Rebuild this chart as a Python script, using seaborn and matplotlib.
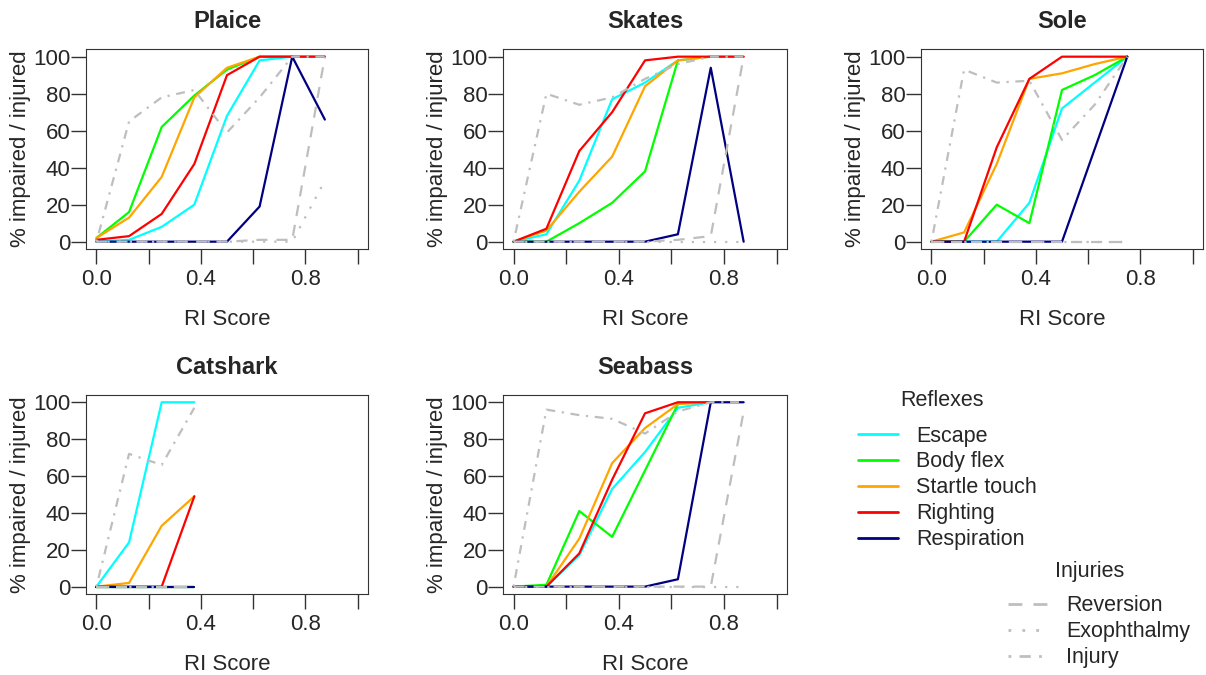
import numpy as np
import pandas as pd
import seaborn as sns
from matplotlib import pyplot as plt
from matplotlib.lines import Line2D

sns.set_style("ticks")
plt.rcParams["font.family"] = ["Liberation Sans", "DejaVu Sans"]

# RI score classes (x axis)
score = [0, 0.125, 0.25, 0.375, 0.5, 0.625, 0.75, 0.875]

reflexes = ["Escape", "Body flex", "Startle touch", "Righting", "Respiration"]
injuries = ["Reversion", "Exophthalmy", "Injury"]
measures = reflexes + injuries

colors = ["#00FFFF", "#00FF00", "#FFA500", "#FF0000", "#000080",
          "#BEBEBE", "#BEBEBE", "#BEBEBE"]
dash_styles = ["", "", "", "", "", (5, 4), (1, 4), (1, 3, 4, 3)]

# % impaired / injured per RI score class (shorter list = no fish in later classes)
plaice = {
    "Escape": [0, 1, 8, 20, 68, 98, 100],
    "Body flex": [2, 16, 62, 79, 93, 100, 100, 100],
    "Startle touch": [2, 13, 35, 78, 94, 100, 100, 100],
    "Righting": [1, 3, 15, 42, 90, 100, 100, 100],
    "Respiration": [0, 0, 0, 0, 0, 19, 100, 66],
    "Reversion": [0, 0, 0, 0, 0, 1, 1, 100],
    "Exophthalmy": [0, 0, 0, 0, 0, 0, 0, 33],
    "Injury": [0, 65, 78, 82, 59, 78, 100, 100],
}
skates = {
    "Escape": [0, 4, 33, 77, 86, 98, 100],
    "Body flex": [0, 0, 10, 21, 38, 98],
    "Startle touch": [0, 6, 27, 46, 84, 98, 100, 100],
    "Righting": [0, 7, 49, 70, 98, 100, 100, 100],
    "Respiration": [0, 0, 0, 0, 0, 4, 94, 0],
    "Reversion": [0, 0, 0, 0, 0, 1, 3, 100],
    "Exophthalmy": [0, 0, 0, 0, 0, 0, 0, 0],
    "Injury": [0, 80, 74, 78, 88, 96, 100, 100],
}
sole = {
    "Escape": [0, 0, 0, 21, 72, 86, 100],
    "Body flex": [0, 0, 20, 10, 82, 90, 100],
    "Startle touch": [0, 5, 42, 88, 91, 96, 100],
    "Righting": [0, 0, 51, 88, 100, 100, 100],
    "Respiration": [0, 0, 0, 0, 0, 50, 100],
    "Reversion": [0, 0, 0, 0, 0, 0, 0],
    "Exophthalmy": [0, 0, 0, 0, 0, 0, 0],
    "Injury": [0, 93, 86, 87, 55, 74, 100],
}
catshark = {
    "Escape": [0, 24, 100, 100],
    "Body flex": [0, 0, 0, 0],
    "Startle touch": [0, 2, 33, 49],
    "Righting": [0, 0, 0, 49],
    "Respiration": [0, 0, 0, 0],
    "Reversion": [0, 0, 0, 0],
    "Exophthalmy": [0, 0, 0, 0],
    "Injury": [0, 72, 66, 97],
}
seabass = {
    "Escape": [0, 0, 17, 53, 73, 97, 100],
    "Body flex": [0, 1, 41, 27, 63, 99],
    "Startle touch": [0, 0, 26, 67, 86, 99, 100],
    "Righting": [0, 0, 18, 58, 94, 100, 100],
    "Respiration": [0, 0, 0, 0, 0, 4, 100, 100],
    "Reversion": [0, 0, 0, 0, 0, 0, 0, 95],
    "Exophthalmy": [0, 0, 0, 0, 0, 0, 0, 0],
    "Injury": [0, 96, 93, 91, 83, 95, 100, 100],
}

species = ["Plaice", "Skates", "Sole", "Catshark", "Seabass"]
species_data = [plaice, skates, sole, catshark, seabass]

# axes boxes in figure fractions
positions = [
    [0.0713, 0.631, 0.2338, 0.296],
    [0.4171, 0.631, 0.2355, 0.296],
    [0.7637, 0.631, 0.2338, 0.296],
    [0.0713, 0.120, 0.2338, 0.295],
    [0.4171, 0.120, 0.2355, 0.295],
]


def to_frame(data: dict) -> pd.DataFrame:
    rows = []
    for m in measures:
        for x, y in zip(score, data[m]):
            rows.append({"score": x, "pct": y, "measure": m})
    return pd.DataFrame(rows)


fig = plt.figure(figsize=(12.06, 6.75), dpi=100)
fs = 16
leg_fs = 15.5

for name, data, pos in zip(species, species_data, positions):
    ax = fig.add_axes(pos)
    df = to_frame(data)
    sns.lineplot(
        data=df, x="score", y="pct", hue="measure", style="measure",
        hue_order=measures, style_order=measures,
        palette=dict(zip(measures, colors)),
        dashes=dict(zip(measures, dash_styles)),
        estimator=None, sort=False, lw=1.6, legend=False, ax=ax,
    )
    ax.set_xlim(-0.04, 1.04)
    ax.set_ylim(-4, 104)
    ax.set_xticks([0, 0.2, 0.4, 0.6, 0.8, 1.0])
    ax.set_xticklabels(["0.0", "", "0.4", "", "0.8", ""])
    ax.set_yticks([0, 20, 40, 60, 80, 100])
    ax.tick_params(labelsize=fs, length=10.5, width=1, color="#333333")
    ax.tick_params(axis="x", pad=4)
    ax.tick_params(axis="y", pad=0.5)
    for s in ax.spines.values():
        s.set_visible(True)
        s.set_color("#333333")
    ax.set_xlabel("RI Score", fontsize=fs, labelpad=13.5)
    ax.set_ylabel("% impaired / injured", fontsize=fs, labelpad=2)
    ax.set_title(name, fontsize=17, fontweight="bold", pad=15)

# legends (titles placed separately, centred like R's legend titles)
reflex_handles = [Line2D([], [], color=c, lw=2) for c in colors[:5]]
fig.legend(
    reflex_handles, reflexes, loc="upper left",
    bbox_to_anchor=(0.7114, 0.3696), frameon=False, fontsize=leg_fs,
    handlelength=1.86, handletextpad=0.84,
    labelspacing=0.23, borderpad=0, borderaxespad=0,
)
fig.text(942 / 1206, 1 - 400 / 675, "Reflexes", fontsize=leg_fs,
         ha="center", va="center")

injury_handles = [Line2D([], [], color="#BEBEBE", lw=2, dashes=d) for d in dash_styles[5:]]
fig.legend(
    injury_handles, injuries, loc="upper left",
    bbox_to_anchor=(0.8358, 0.1178), frameon=False, fontsize=leg_fs,
    handlelength=1.86, handletextpad=0.84,
    labelspacing=0.23, borderpad=0, borderaxespad=0,
)
fig.text(1090 / 1206, 1 - 572 / 675, "Injuries", fontsize=leg_fs,
         ha="center", va="center")

fig.savefig("out.png", dpi=100)
